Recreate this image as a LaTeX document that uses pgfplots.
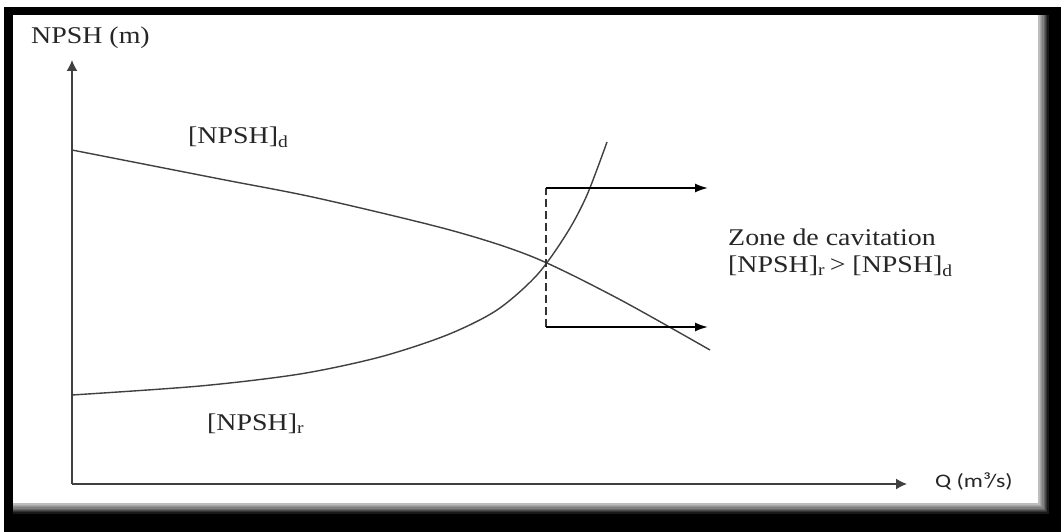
\documentclass[border=0pt]{standalone}
\usepackage{pgfplots}
\pgfplotsset{compat=1.18}
\usepackage{pgfplotstable}
\usepackage{graphicx}
\usepackage{fontspec}
\setmainfont{Liberation Serif}
\newfontfamily\calfont{Carlito}
\usetikzlibrary{arrows.meta}

% pixel-based coordinates: x = px-72, y = 484-py
\pgfplotstableread{
x y
0 334
148 305
245 286
378 254
461 227
545 186
638 134
}\npshd

\pgfplotstableread{
x y
0 89
128 98
228 110
308 127
375 149
425 174
465 209
495 251
515 289
535 342
}\npshr

\newcommand{\lbl}[2]{\scalebox{1}[0.86]{\fontsize{#1}{#1}\selectfont #2}}

\begin{document}
\begin{tikzpicture}
\useasboundingbox (0,0) rectangle (1061bp,-532bp);
% frame
\fill[black] (4bp,-7bp) rectangle (1061bp,-532bp);
\foreach \k/\c in {0/100,1/90,2/80,3/70,4/60,5/50,6/42,7/34,8/26,9/18}{
  \fill[black!\c] (13bp,-15bp) rectangle ({(1050-1.3*\k)*1bp},{-(515-1.3*\k)*1bp});
}
\fill[white] (13bp,-15bp) rectangle (1038bp,-503bp);

\begin{axis}[
  at={(72bp,-484bp)}, anchor=south west,
  scale only axis, width=835bp, height=424bp,
  xmin=0, xmax=835, ymin=0, ymax=424,
  axis lines=left,
  axis line style={line width=1.4bp, draw=black!75, -{Latex[length=11bp,width=11bp]}},
  xtick=\empty, ytick=\empty,
  clip=false,
]
\addplot[smooth, line width=1.4bp, black!75] table {\npshd};
\addplot[smooth, line width=1.4bp, black!75] table {\npshr};
\addplot[line width=1.6bp, black!80, dash pattern=on 8bp off 4bp] coordinates {(474,157) (474,296)};
\addplot[line width=1.8bp, black, -{Latex[length=13bp,width=9bp]}] coordinates {(474,296) (636,296)};
\addplot[line width=1.8bp, black, -{Latex[length=13bp,width=9bp]}] coordinates {(474,157) (636,157)};
\end{axis}

\node[anchor=base west, inner sep=0, text=black!85] at (31bp,-43bp) {\lbl{28}{NPSH (m)}};
\node[anchor=base west, inner sep=0, text=black!85] at (188bp,-143bp) {\lbl{28}{[NPSH]\textsubscript{d}}};
\node[anchor=base west, inner sep=0, text=black!85] at (207bp,-430bp) {\lbl{28}{[NPSH]\textsubscript{r}}};
\node[anchor=base west, inner sep=0, text=black!85] at (728bp,-245bp) {\lbl{28}{Zone de cavitation}};
\node[anchor=base west, inner sep=0, text=black!85] at (728bp,-272bp) {\lbl{28}{[NPSH]\textsubscript{r}\,> [NPSH]\textsubscript{d}}};
\node[anchor=base west, inner sep=0, text=black!85] at (935bp,-487bp) {\scalebox{1}[0.8]{\calfont\fontsize{24}{24}\selectfont Q (m³/s)}};
\end{tikzpicture}
\end{document}
